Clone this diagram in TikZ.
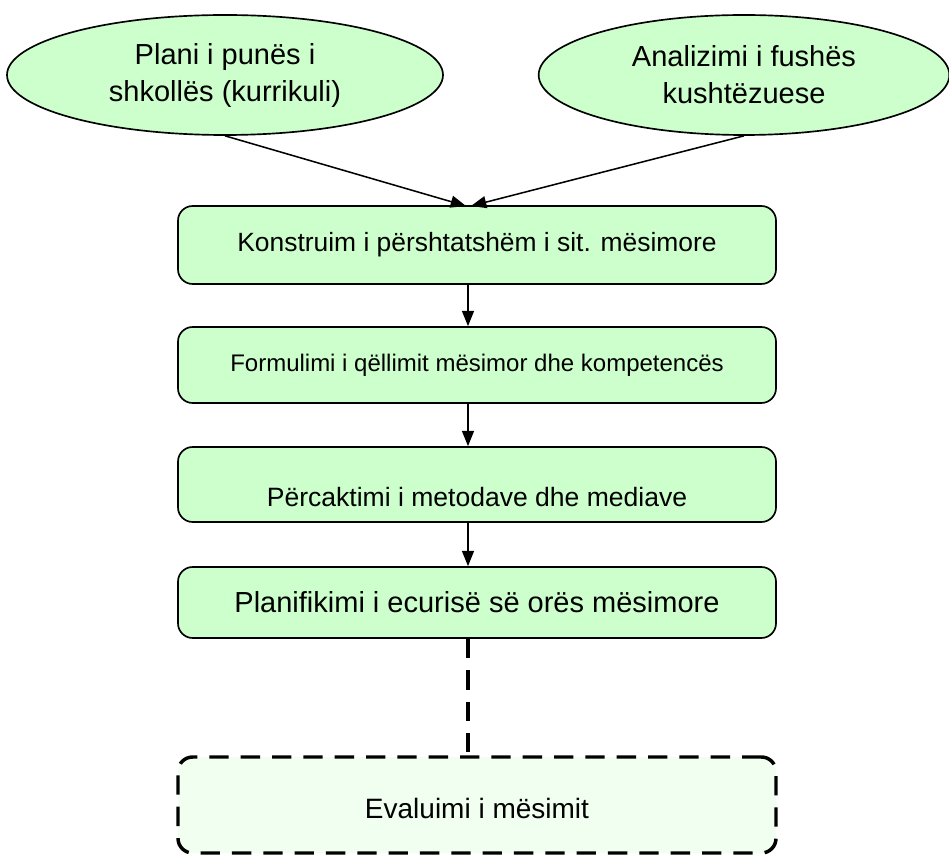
\documentclass[tikz,border=0pt]{standalone}
\usepackage{fontspec}
\setmainfont{Liberation Sans}
\usetikzlibrary{shapes.geometric,arrows.meta}
\definecolor{lightgreen}{HTML}{CCFFCC}
\definecolor{palegreen}{HTML}{F0FFF0}
\begin{document}
\begin{tikzpicture}[x=0.75pt,y=-0.75pt,
    oval/.style={ellipse,draw,fill=lightgreen,line width=1.25pt,inner sep=0pt,
        minimum height=90pt,align=center,font=\fontsize{21.75}{27.75}\selectfont},
    stage/.style={rectangle,rounded corners=11pt,draw,fill=lightgreen,line width=1.25pt,
        minimum width=448.5pt,inner sep=0pt,text height=12.9pt,text depth=0pt,
        font=\fontsize{18}{22}\selectfont},
    arr/.style={line width=1.15pt,-{Triangle[length=11.5pt,width=9pt]}},
    dash line/.style={line width=2.6pt,dash pattern=on 14.5pt off 9pt}]

\useasboundingbox (0,0) rectangle (949,855);

% sources
\node[oval,minimum width=327pt] (plani) at (225,75) {Plani i punës i\\shkollës (kurrikuli)};
\node[oval,minimum width=308pt] (analiza) at (744,75) {Analizimi i fushës\\kushtëzuese};

% steps
\node[stage,minimum height=58.5pt,text height=14.2pt,text depth=4.5pt,font=\fontsize{19.8}{24}\selectfont] (konstruim) at (477,245)
    {Konstruim i përshtatshëm i sit. mësimore};
\node[stage,minimum height=57pt,text depth=3pt] (formulimi) at (477,365)
    {Formulimi i qëllimit mësimor dhe kompetencës};
\node[stage,minimum height=56.25pt,text height=33pt,font=\fontsize{19.9}{24}\selectfont] (percaktimi) at (477,484.5)
    {Përcaktimi i metodave dhe mediave};
\node[stage,minimum height=53.25pt,text height=15.6pt,font=\fontsize{21.75}{26}\selectfont] (planifikimi) at (477,602.5)
    {Planifikimi i ecurisë së orës mësimore};
\node[stage,dash line,fill=palegreen,minimum height=72pt,text height=19.5pt,font=\fontsize{21}{25}\selectfont] (evaluimi) at (477,805)
    {Evaluimi i mësimit};

% connectors
\coordinate (v) at (468,0);
\coordinate (a1) at (466,206);
\coordinate (a2) at (471,206);
\draw[arr] (plani.south) -- (a1);
\draw[arr] (analiza.south) -- (a2);
\draw[arr] (konstruim.south -| v) -- (formulimi.north -| v);
\draw[arr] (formulimi.south -| v) -- (percaktimi.north -| v);
\draw[arr] (percaktimi.south -| v) -- (planifikimi.north -| v);
\draw[dash line] (planifikimi.south -| v) -- (evaluimi.north -| v);

\end{tikzpicture}
\end{document}
